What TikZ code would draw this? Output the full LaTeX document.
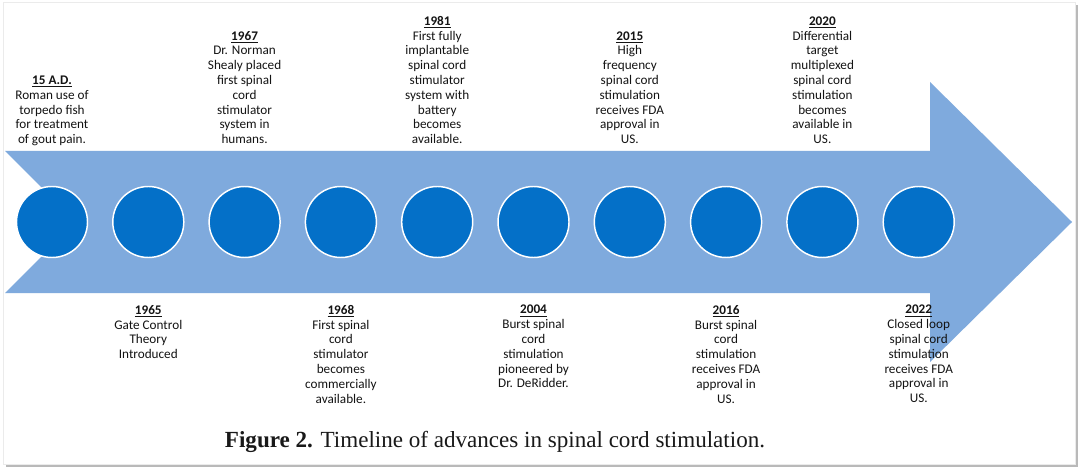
\documentclass[tikz,border=0pt]{standalone}
\usepackage{fontspec}
\setmainfont{Carlito}
\newfontfamily\captionfont{Liberation Serif}

\definecolor{bandBlue}{RGB}{127,170,221}
\definecolor{dotBlue}{RGB}{4,112,200}
\definecolor{shadowGray}{RGB}{185,185,185}

\tikzstyle{dot}=[circle,inner sep=0pt,minimum size=53.25pt,fill=dotBlue,draw=white,line width=1.1pt]
\tikzstyle{eventText}=[align=center,inner sep=0pt,text=black!92,font=\fontsize{9.9}{11.1}\selectfont]
\tikzstyle{upperText}=[eventText,anchor=south,text depth=0pt]
\tikzstyle{lowerText}=[eventText,anchor=north]
\newcommand{\eventYear}[1]{\underline{\textbf{#1}}}

\begin{document}
\begin{tikzpicture}[x=0.75pt,y=-0.75pt]

	\useasboundingbox (0,0) rectangle (1080,470);
	\fill[white] (0,0) rectangle (1080,470);

	% Rahmen
	\fill[shadowGray] (6,5) rectangle (1078,467);
	\filldraw[fill=white, draw=black!8] (3,2) rectangle (1075,464);

	% Pfeil
	\fill[bandBlue] (5,151) -- (930,151) -- (930,82) -- (1072,222)
		-- (930,362) -- (930,293) -- (5,293) -- (76,222) -- cycle;

	% Punkte
	\foreach \i in {1,...,10}
		{
			\node (c\i) at ({52+96.3*(\i-1)},222) [dot] {};
		}

	% Obere Reihe
	\node (t15ad) at (52,144) [upperText] {\eventYear{15 A.D.}\\Roman use of\\torpedo fish\\for treatment\\of gout pain.};
	\node (t1967) at (244.6,144) [upperText] {\eventYear{1967}\\Dr. Norman\\Shealy placed\\first spinal\\cord\\stimulator\\system in\\humans.};
	\node (t1981) at (437.2,144) [upperText] {\eventYear{1981}\\First fully\\implantable\\spinal cord\\stimulator\\system with\\battery\\becomes\\available.};
	\node (t2015) at (629.8,144) [upperText] {\eventYear{2015}\\High\\frequency\\spinal cord\\stimulation\\receives FDA\\approval in\\US.};
	\node (t2020) at (822.4,144) [upperText] {\eventYear{2020}\\Differential\\target\\multiplexed\\spinal cord\\stimulation\\becomes\\available in\\US.};

	% Untere Reihe
	\node (t1965) at (148.3,305) [lowerText] {\eventYear{1965}\\Gate Control\\Theory\\Introduced};
	\node (t1968) at (340.9,305) [lowerText] {\eventYear{1968}\\First spinal\\cord\\stimulator\\becomes\\commercially\\available.};
	\node (t2004) at (533.5,305) [lowerText] {\eventYear{2004}\\Burst spinal\\cord\\stimulation\\pioneered by\\Dr. DeRidder.};
	\node (t2016) at (726.1,305) [lowerText] {\eventYear{2016}\\Burst spinal\\cord\\stimulation\\receives FDA\\approval in\\US.};
	\node (t2022) at (918.7,305) [lowerText] {\eventYear{2022}\\Closed loop\\spinal cord\\stimulation\\receives FDA\\approval in\\US.};

	% Bildunterschrift
	\node (caption) at (495,447) [anchor=base, inner sep=0pt, text=black!90,
		font=\captionfont\fontsize{17.3}{20}\selectfont]
		{\textbf{Figure 2.} Timeline of advances in spinal cord stimulation.};

\end{tikzpicture}
\end{document}
